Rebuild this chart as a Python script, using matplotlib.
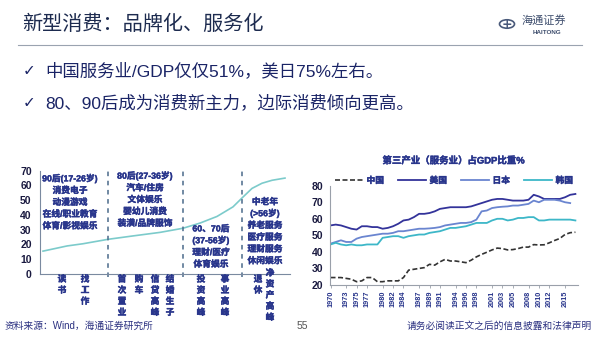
import matplotlib
matplotlib.use("Agg")
import matplotlib.pyplot as plt
import matplotlib.patheffects as pe
from matplotlib.patches import Circle

plt.rcParams['font.family'] = ['Noto Sans CJK SC', 'DejaVu Sans']

# 左图：生命周期消费曲线
life_x = [0.3, 2.7, 4.3, 6.8, 9.3, 12.0, 14.3, 16.0, 17.7, 19.3, 20.2, 21.2, 22.2, 23.2, 24.5]
life_y = [15.5, 19, 20.5, 23.5, 25.8, 28.2, 31, 34.5, 39, 45.5, 51.5, 58, 61.5, 63.5, 65]
stage_div = [6.8, 14.3, 20.2]
stage_text = [
    (3.0, 67.8, "90后(17-26岁)\n消费电子\n动漫游戏\n在线/职业教育\n体育/影视娱乐"),
    (10.5, 69.6, "80后(27-36岁)\n汽车/住房\n文体娱乐\n婴幼儿消费\n装潢/品牌服饰"),
    (17.1, 33.6, "60、70后\n(37-56岁)\n理财/医疗\n体育娱乐"),
    (22.5, 51.9, "中老年\n(>56岁)\n养老服务\n医疗服务\n理财服务\n休闲娱乐"),
]
event_x = [2.2, 4.5, 8.2, 9.9, 11.5, 13.0, 16.1, 18.5, 21.8, 23.0]
event_txt = ["读书", "找工作", "首次置业", "购车", "信贷高峰", "结婚生子",
             "投资高峰", "事业高峰", "退休", "净资产高峰"]

# 右图：第三产业占GDP比重
years = list(range(1970, 2018))
china = [24.5, 24.5, 24.5, 24, 23.5, 22, 22.5, 24.5, 24.5, 22, 22, 22.5, 22.5, 22.5, 24.5,
         29, 29.5, 30, 30.5, 32.5, 32, 34, 35.5, 34.5, 34.5, 34, 33.5, 35, 37, 38.5, 39.8,
         41.2, 42.3, 42, 41.2, 41.4, 42, 42.9, 42.9, 44.4, 44.2, 44.3, 45.5, 46.9, 48.1,
         50.5, 51.6, 51.9]
usa = [56, 56.5, 56, 55, 54, 53.5, 55.5, 55.5, 55, 55, 54, 54.5, 55.5, 57, 59, 59.5, 61,
       63, 63, 63.5, 64.5, 66, 66.5, 67, 67, 67, 67, 67.5, 68.5, 69.5, 70.5, 71.5, 72, 72,
       71.5, 71, 71, 71, 71.5, 74.5, 73.5, 72, 72, 72, 72, 73, 74.5, 75]
japan = [45, 46, 47, 46, 46, 48, 49, 49.5, 50, 50.5, 51, 51, 51.5, 52.5, 52.5, 53, 53.5,
         54, 54, 54.2, 54.5, 55, 56, 56.5, 57, 57.5, 57.5, 58, 59.5, 64.5, 65, 66.5, 67,
         67.3, 67.5, 68, 68, 68.5, 69, 71, 70, 71.5, 71.5, 71.5, 71, 70, 69.5]
korea = [44.5, 45.5, 44.5, 44, 44.5, 44, 44, 44.5, 44.5, 44.5, 48.5, 49, 49.5, 49.5, 48.5,
         49.5, 50, 50.5, 50.5, 51.5, 52, 52.5, 53.5, 54.5, 54.5, 55, 55.5, 56.5, 57.5, 57.5,
         57.5, 59, 60, 60, 59, 59.5, 60.5, 60.5, 61, 61, 59, 59, 59.5, 59.5, 59.5, 59.5,
         59.5, 59]
year_ticks = [1970, 1973, 1975, 1977, 1980, 1982, 1984, 1987, 1989, 1991, 1994, 1996,
              1998, 2001, 2003, 2005, 2008, 2010, 2012, 2015]

navy = "#27348B"
# 宋体加粗的效果用细描边模拟
bold_fx = [pe.withStroke(linewidth=0.3, foreground=navy)]

fig = plt.figure(figsize=(6, 3.38), dpi=100)

# 页眉
fig.text(22 / 600, 1 - 24 / 338, "新型消费：品牌化、服务化", fontsize=14.5,
         color="#1D2B4F", va="center", ha="left")
fig.add_artist(plt.Line2D([18 / 600, 582 / 600], [1 - 45 / 338] * 2, color="#9AA3B0", lw=0.8))
fig.add_artist(Circle((507 / 600, 1 - 24 / 338), 0.0125, transform=fig.transFigure,
                      fill=False, ec="#4A5A7A", lw=1.2))
fig.text(507 / 600, 1 - 24 / 338, "+", fontsize=9, color="#4A5A7A", ha="center", va="center",
         family="DejaVu Sans", fontweight="bold")
fig.text(522 / 600, 1 - 20 / 338, "海通证券", fontsize=8, color="#3B4B6B", ha="left",
         va="center", style="italic")
fig.text(547 / 600, 1 - 32 / 338, "HAITONG", fontsize=4.5, color="#3B4B6B", ha="center",
         va="center", family="Liberation Sans", fontweight="bold")

bullets = ["中国服务业/GDP仅仅51%，美日75%左右。", "80、90后成为消费新主力，边际消费倾向更高。"]
for i, b in enumerate(bullets):
    yy = 1 - (71 + 32 * i) / 338
    fig.text(23 / 600, yy, "✓", fontsize=11, color="#1A2466", va="center",
             family=["DejaVu Sans"])
    fig.text(45 / 600, yy, b, fontsize=12.5, color="#1A2466", va="center",
             family=["Liberation Sans", "Noto Sans CJK SC"])

# 左图
ax1 = fig.add_axes([40 / 600, 1 - 274 / 338, 250 / 600, 103.3 / 338])
ax1.plot(life_x, life_y, color="#7CCBCB", lw=1.2)
for d in stage_div:
    ax1.plot([d, d], [-2, 72], color="#4A6A8A", lw=1.1, ls=(0, (3, 3)), clip_on=False)
for x, y, t in stage_text:
    ax1.text(x, y, t, ha="center", va="top", fontsize=6.3, color=navy, fontweight="bold",
             linespacing=1.4, family=["Liberation Sans", "Noto Sans CJK SC"],
             path_effects=bold_fx)
for x, t in zip(event_x, event_txt):
    top = 3.7 if len(t) > 4 else -0.5
    ax1.text(x, top, "\n".join(t), ha="center", va="top", fontsize=6.3, color=navy,
             fontweight="bold", linespacing=1.3, clip_on=False, path_effects=bold_fx)
ax1.set_xlim(0, 25)
ax1.set_ylim(0, 70)
ax1.set_yticks(range(0, 71, 10))
ax1.set_xticks([])
for s in ["top", "right"]:
    ax1.spines[s].set_visible(False)
for s in ["left", "bottom"]:
    ax1.spines[s].set_color("#7A8AA0")
    ax1.spines[s].set_linewidth(0.8)
ax1.tick_params(axis="y", length=0, pad=6, labelsize=7.5, labelcolor="#1a1a40")
for lb in ax1.get_yticklabels():
    lb.set_fontweight("bold")
    lb.set_family("Liberation Sans")

# 右图
ax2 = fig.add_axes([330 / 600, 1 - 285 / 338, 248 / 600, 99.3 / 338])
ax2.plot(years, china, color="#333333", lw=1.2, ls=(0, (3, 1.5)), label="中国")
ax2.plot(years, usa, color="#33339A", lw=1.3, label="美国")
ax2.plot(years[:len(japan)], japan, color="#6A85D0", lw=1.3, label="日本")
ax2.plot(years, korea, color="#3DB7C8", lw=1.3, label="韩国")
ax2.set_xlim(1969.9, 2017.5)
ax2.set_ylim(20, 80)
ax2.set_yticks(range(20, 81, 10))
ax2.set_xticks(year_ticks)
ax2.set_xticklabels([str(y) for y in year_ticks], rotation=90)
for s in ["top", "right"]:
    ax2.spines[s].set_visible(False)
for s in ["left", "bottom"]:
    ax2.spines[s].set_color("#9AA0AA")
    ax2.spines[s].set_linewidth(0.8)
ax2.tick_params(axis="y", length=0, pad=5, labelsize=7.5, labelcolor="#1a1a40")
ax2.tick_params(axis="x", length=2, width=0.6, color="#9AA0AA", pad=2, labelsize=5.3,
                labelcolor=navy)
for lb in ax2.get_yticklabels() + ax2.get_xticklabels():
    lb.set_fontweight("bold")
    lb.set_family("Liberation Sans")
ax2.set_title("第三产业（服务业）占GDP比重%", fontsize=6.8, color=navy, fontweight="bold",
              pad=16, family=["Liberation Sans", "Noto Sans CJK SC"], path_effects=bold_fx)
leg = ax2.legend(ncol=4, loc="lower center", bbox_to_anchor=(0.5, 0.97), frameon=False,
                 fontsize=6.3, handlelength=3.2, columnspacing=1.6, handletextpad=0.4,
                 borderaxespad=0)
for t in leg.get_texts():
    t.set_color(navy)
    t.set_fontweight("bold")
    t.set_path_effects(bold_fx)

# 页脚
fig.text(5 / 600, 1 - 326 / 338, "资料来源：Wind，海通证券研究所", fontsize=7, color="#2A3080",
         va="center", family=["Liberation Sans", "Noto Sans CJK SC"])
fig.text(302 / 600, 1 - 326 / 338, "55", fontsize=7.5, color="#555555", va="center",
         ha="center", family="Liberation Sans")
fig.text(592 / 600, 1 - 326 / 338, "请务必阅读正文之后的信息披露和法律声明", fontsize=7,
         color="#2A3080", va="center", ha="right")

fig.savefig("out.png", dpi=100)
